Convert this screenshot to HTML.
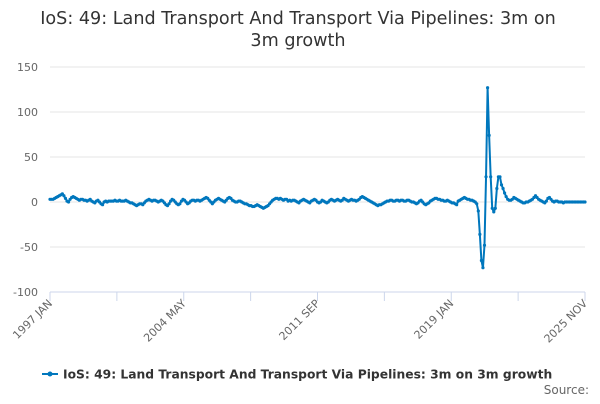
<!DOCTYPE html>
<html><head><meta charset="utf-8"><style>
body{margin:0;background:#fff;font-family:"DejaVu Sans",sans-serif;}
svg text{font-family:"DejaVu Sans",sans-serif;}
</style></head><body>
<svg id="chart" width="600" height="400">
<text x="298" y="24" text-anchor="middle" font-size="17.6" fill="#333"><tspan x="298">IoS: 49: Land Transport And Transport Via Pipelines: 3m on</tspan><tspan x="298" dy="22">3m growth</tspan></text>
<g id="grid"></g><g id="xaxis"></g><g id="series"></g>
<g>
<line x1="42" y1="374" x2="58" y2="374" stroke="#0077bd" stroke-width="2"/>
<circle cx="50" cy="374" r="2.5" fill="#0077bd"/>
<text x="63" y="378.5" font-size="12.3" font-weight="bold" fill="#333">IoS: 49: Land Transport And Transport Via Pipelines: 3m on 3m growth</text>
</g>
<text x="589" y="394" text-anchor="end" font-size="12" fill="#666">Source:</text>
</svg>
<script>
const yTicks=[150,100,50,0,-50,-100];
const xTickLabels=["1997 JAN","2004 MAY","2011 SEP","2019 JAN","2025 NOV"];
const startYear=1997;
const values=[
3,3,3,4,5,6,7,8,9,7,4,1,
0,3,5,6,5,4,3,2,3,3,2,2,
1,2,3,1,0,-1,1,2,0,-2,-3,0,
1,0,1,1,1,1,2,1,1,2,1,1,
1,2,1,0,-1,-1,-2,-3,-4,-3,-2,-2,
-3,-1,1,2,3,2,1,2,2,1,0,1,
2,1,-1,-3,-4,-2,1,3,2,0,-2,-3,
-2,1,3,2,0,-2,-1,1,2,2,1,2,
2,1,2,3,4,5,4,2,0,-2,0,2,
3,4,3,2,1,0,2,4,5,4,2,1,
0,0,1,1,0,-1,-2,-2,-3,-4,-4,-5,
-5,-4,-3,-4,-5,-6,-7,-6,-5,-4,-2,0,
2,3,4,4,3,4,3,2,3,3,1,2,
1,2,2,1,0,-1,1,2,3,2,1,0,
-1,1,2,3,2,0,-1,0,2,1,0,-1,
0,2,3,2,1,2,3,2,1,2,4,3,
2,1,2,3,2,2,1,2,3,5,6,5,
4,3,2,1,0,-1,-2,-3,-4,-3,-3,-2,
-1,0,1,1,2,2,1,1,2,2,1,2,
2,1,1,2,2,1,0,0,-1,-2,-1,1,
2,0,-2,-3,-2,-1,1,2,3,4,4,3,
3,2,2,1,1,2,1,0,-1,-1,-2,-3,
1,2,3,4,5,4,3,3,2,2,1,0,
-2,-10,-36,-65,-73,-48,28,127,74,28,-7,-11,
-7,15,28,28,19,15,10,6,3,2,2,3,
5,4,3,2,1,0,-1,-1,0,0,1,2,
3,5,7,5,3,2,1,0,-1,1,4,5,
3,1,0,1,1,0,0,0,-1,0,0,0,
0,0,0,0,0,0,0,0,0,0,0];
const NS="http://www.w3.org/2000/svg";
const X0=50,X1=585,Y0=292,Y1=67;
const n=values.length;
function xs(i){return X0+(X1-X0)*i/(n-1);}
function ys(v){return Y0+(Y1-Y0)*(v+100)/250;}
function mk(t,a,p){const e=document.createElementNS(NS,t);for(const k in a)e.setAttribute(k,a[k]);p.appendChild(e);return e;}
const grid=document.getElementById('grid');
yTicks.forEach(v=>{
  const l=mk('line',{x1:X0,x2:X1,y1:ys(v),y2:ys(v),stroke:v===-100?'#ccd6eb':'#e6e6e6','stroke-width':1},grid);
  
  
  const t=mk('text',{x:38,y:ys(v)+4,'text-anchor':'end','font-size':11,fill:'#666'},grid);
  t.textContent=v;
  
  
});
const xa=document.getElementById('xaxis');
const step=(n-1)/(xTickLabels.length-1);
for(let k=0;k<=2*(xTickLabels.length-1);k++){
  const x=xs(k*step/2);
  const tk=mk('line',{x1:x,x2:x,y1:Y0,y2:Y0+9,stroke:'#ccd6eb'},xa);
  
  
}
xTickLabels.forEach((lab,k)=>{
  const x=xs(k*step);
  const t=mk('text',{x:x+3,y:Y0+12,'text-anchor':'end','font-size':11,fill:'#666',transform:`rotate(-45 ${x+3} ${Y0+12})`},xa);
  t.textContent=lab;
  
  
});
const sg=document.getElementById('series');
const pts=values.map((v,i)=>xs(i).toFixed(2)+','+ys(v).toFixed(2)).join(' ');
const pl=mk('polyline',{points:pts,fill:'none',stroke:'#0077bd','stroke-width':2,'stroke-linejoin':'round'},sg);


values.forEach((v,i)=>{
  const c=mk('circle',{cx:xs(i),cy:ys(v),r:1.6,fill:'#0077bd'},sg);
  
  
});
</script>
</body></html>
